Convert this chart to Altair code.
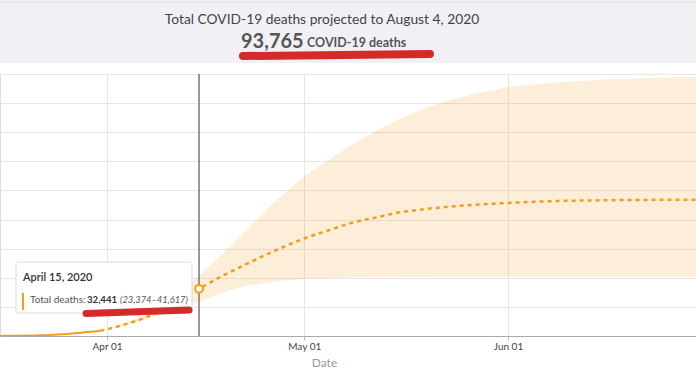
import altair as alt
import pandas as pd

# ---------------- text ----------------
HEADER_TITLE = "Total COVID-19 deaths projected to August 4, 2020"
HEADER_NUMBER = "93,765"
HEADER_UNIT = "COVID-19 deaths"
TIP_DATE = "April 15, 2020"
TIP_LABEL = "Total deaths:"
TIP_VALUE = "32,441"
TIP_RANGE = "(23,374\u201341,617)"
X_TITLE = "Date"

# ---------------- data ----------------
actual_dates = ["2020-03-14", "2020-03-15", "2020-03-16", "2020-03-17", "2020-03-18",
                "2020-03-19", "2020-03-20", "2020-03-21", "2020-03-22", "2020-03-23",
                "2020-03-24", "2020-03-25", "2020-03-26", "2020-03-27", "2020-03-28",
                "2020-03-29", "2020-03-30", "2020-03-31"]
actual_deaths = [55, 68, 90, 115, 155, 210, 270, 350, 440, 580,
                 900, 1150, 1450, 1900, 2300, 2700, 3100, 3600]

proj_dates = ["2020-03-31", "2020-04-03", "2020-04-07", "2020-04-10", "2020-04-12",
              "2020-04-15", "2020-04-18", "2020-04-22", "2020-04-26", "2020-05-01",
              "2020-05-05", "2020-05-08", "2020-05-12", "2020-05-15", "2020-05-19",
              "2020-05-23", "2020-05-27", "2020-06-01", "2020-06-08", "2020-06-15",
              "2020-06-22", "2020-07-01", "2020-08-04"]
proj_deaths = [3600, 7000, 13000, 19500, 25000,
               32441, 40000, 49000, 57500, 67000,
               73000, 77500, 81500, 84500, 87000,
               88800, 90200, 91400, 92700, 93200,
               93500, 93650, 93765]
band_lower = [3600, 6200, 11500, 16000, 19000,
              23374, 29000, 34500, 37300, 39200,
              39800, 40200, 40400, 40500, 40600,
              40650, 40700, 40700, 40750, 40800,
              40800, 40800, 40800]
band_upper = [3600, 8000, 14500, 23500, 29000,
              41617, 54000, 72000, 90000, 110000,
              122000, 131000, 141000, 148000, 156000,
              162000, 166500, 171000, 174000, 176000,
              177200, 178000, 179000]

hover_dates = ["2020-04-15"]
hover_deaths = [32441]

y_ticks = [0, 20000, 40000, 60000, 80000, 100000, 120000, 140000, 160000, 180000]

ORANGE = "#f59d1b"
FONT = "Lato"

actual_df = pd.DataFrame({"date": pd.to_datetime(actual_dates), "deaths": actual_deaths})
proj_df = pd.DataFrame({"date": pd.to_datetime(proj_dates), "deaths": proj_deaths,
                        "lower": band_lower, "upper": band_upper})
hover_df = pd.DataFrame({"date": pd.to_datetime(hover_dates), "deaths": hover_deaths})

x_scale = alt.Scale(domain=[alt.DateTime(year=2020, month=3, date=15, hours=17, minutes=17),
                            alt.DateTime(year=2020, month=6, date=29, hours=14, minutes=24)])
x_axis = alt.Axis(format="%b %d", tickCount={"interval": "month", "step": 1},
                  labelFontSize=10, labelColor="#444", labelPadding=1,
                  tickColor="#bbb", tickSize=4, domainColor="#aaa",
                  gridColor="#e6e6e6", title=X_TITLE, titleColor="#999",
                  titleFontSize=12, titleFontWeight="normal", titleX=324, titleY=26,
                  titleBaseline="middle")
y_scale = alt.Scale(domain=[0, 180000], nice=False)
y_axis = alt.Axis(values=y_ticks, labels=False, ticks=False, domain=False, title=None,
                  gridColor="#e6e6e6")

X = alt.X("date:T", scale=x_scale, axis=x_axis)

band = alt.Chart(proj_df).mark_area(color=ORANGE, opacity=0.17, clip=True).encode(
    x=X, y=alt.Y("lower:Q", scale=y_scale, axis=y_axis), y2="upper:Q")

actual = alt.Chart(actual_df).mark_line(color=ORANGE, strokeWidth=2, clip=True).encode(
    x=X, y=alt.Y("deaths:Q", scale=y_scale, axis=y_axis))

proj = alt.Chart(proj_df).mark_line(color=ORANGE, strokeWidth=2.5, strokeDash=[4, 4],
                                    interpolate="monotone", clip=True).encode(
    x=X, y=alt.Y("deaths:Q", scale=y_scale, axis=y_axis))

hover_rule = alt.Chart(hover_df).mark_rule(color="#777", strokeWidth=1.5).encode(x=X)

hover_pt = alt.Chart(hover_df).mark_point(shape="circle", filled=True, fill="white",
                                          stroke=ORANGE, strokeWidth=2, size=60,
                                          opacity=1).encode(
    x=X, y=alt.Y("deaths:Q", scale=y_scale, axis=y_axis))

one = pd.DataFrame({"k": [0]})

# tooltip box
tip_box = alt.Chart(one).mark_rect(fill="white", stroke="#dcdcdc", strokeWidth=1,
                                   cornerRadius=2).encode(
    x=alt.value(16), x2=alt.value(192), y=alt.value(188), y2=alt.value(239))
tip_bar = alt.Chart(one).mark_rule(color=ORANGE, strokeWidth=2).encode(
    x=alt.value(23), x2=alt.value(23), y=alt.value(219), y2=alt.value(236))


def text_layer(txt, x, y, size, weight="normal", color="#444", align="left", style="normal"):
    return alt.Chart(pd.DataFrame({"t": [txt]})).mark_text(
        align=align, baseline="alphabetic", font=FONT, fontSize=size,
        fontWeight=weight, fontStyle=style, color=color).encode(
        x=alt.value(x), y=alt.value(y), text="t:N")


tip_texts = [
    text_layer(TIP_DATE, 23, 207, 11, weight=600, color="#333"),
    text_layer(TIP_LABEL, 30, 229, 10, color="#555"),
    text_layer(TIP_VALUE, 87, 229, 9.6, weight="bold", color="#333"),
    text_layer(TIP_RANGE, 120, 229, 9.3, color="#555", style="italic"),
]
tip_underline = alt.Chart(one).mark_rule(color="#d42a2a", strokeWidth=7, strokeCap="round").encode(
    x=alt.value(86), x2=alt.value(189), y=alt.value(239.5), y2=alt.value(236))

# header
header_bg = alt.Chart(one).mark_rect(fill="#f1f1f5").encode(
    x=alt.value(0), x2=alt.value(696), y=alt.value(-74), y2=alt.value(-11))
header_top = alt.Chart(one).mark_rule(color="#e2e2e7", strokeWidth=1.5).encode(
    x=alt.value(0), x2=alt.value(696), y=alt.value(-72), y2=alt.value(-72))
header_texts = [
    text_layer(HEADER_TITLE, 322, -50, 13.8, color="#444", align="center"),
    text_layer(HEADER_NUMBER, 241, -26, 20, weight="bold", color="#555"),
    text_layer(HEADER_UNIT, 307, -27, 12.5, weight="bold", color="#555"),
]
header_underline = alt.Chart(one).mark_rule(color="#d42a2a", strokeWidth=8, strokeCap="round").encode(
    x=alt.value(243), x2=alt.value(430), y=alt.value(-18), y2=alt.value(-20))

chart = alt.layer(
    band, actual, proj, hover_rule, tip_box, tip_bar, *tip_texts, tip_underline,
    hover_pt, header_bg, header_top, *header_texts, header_underline
).properties(
    width=696, height=262, autosize="none",
    padding={"left": 0, "top": 74, "right": 0, "bottom": 41},
    background="white",
).configure_view(stroke=None).configure(font=FONT)

chart.save("out.html", embed_options={"renderer": "svg", "actions": False})
